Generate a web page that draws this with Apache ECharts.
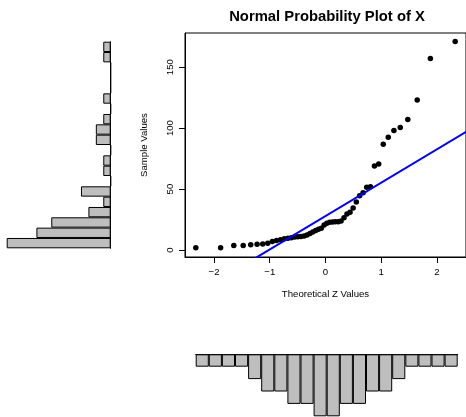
<!DOCTYPE html>
<html>
<head>
<meta charset="utf-8">
<script src="https://cdn.jsdelivr.net/npm/echarts@6/dist/echarts.min.js"></script>
<style>
  html, body { margin: 0; padding: 0; background: #fff; }
  #chart { width: 466px; height: 417px; }
</style>
</head>
<body>
<div id="chart"></div>
<script>
// theoretical z quantiles (x) and sorted sample values (y)
var zValues = [-2.326, -1.881, -1.645, -1.476, -1.341, -1.227, -1.126, -1.036, -0.954, -0.878,
  -0.806, -0.739, -0.674, -0.613, -0.553, -0.496, -0.440, -0.385, -0.332, -0.279,
  -0.228, -0.176, -0.126, -0.075, -0.025, 0.025, 0.075, 0.126, 0.176, 0.228,
  0.279, 0.332, 0.385, 0.440, 0.496, 0.553, 0.613, 0.674, 0.739, 0.806,
  0.878, 0.954, 1.036, 1.126, 1.227, 1.341, 1.476, 1.645, 1.881, 2.326]
var sampleValues = [1.9, 1.9, 3.8, 3.8, 4.4, 4.7, 5.0, 5.6, 7.0, 7.8,
  8.5, 9.2, 9.6, 10.1, 10.6, 10.9, 11.2, 11.6, 12.4, 13.6,
  14.8, 16.0, 17.0, 17.8, 20.5, 22.0, 22.8, 23.0, 23.2, 23.3,
  23.8, 26.5, 29.5, 31.0, 34.5, 39.5, 44.5, 47.0, 51.5, 52.0,
  69.0, 70.5, 86.8, 92.5, 98.0, 100.5, 107.0, 123.0, 157.0, 171.0]

// reference line (through the quartiles)
var lineZ = [-3, 3]
var lineY = [-54.3, 110.1]

// histogram of sample values (left, bottom bin first)
var yBinStarts = [1.9, 10.4, 18.8, 27.3, 35.7, 44.2, 52.7, 61.1, 69.6, 78.0,
  86.5, 95.0, 103.4, 111.9, 120.3, 128.8, 137.3, 145.7, 154.2, 162.6]
var yBinCounts = [14, 10, 8, 3, 1, 4, 0, 1, 1, 0, 2, 2, 1, 0, 1, 0, 0, 0, 1, 1]

// histogram of z values (bottom)
var zBinStarts = [-2.33, -2.09, -1.86, -1.63, -1.40, -1.16, -0.93, -0.70, -0.47, -0.23,
  0, 0.23, 0.47, 0.70, 0.93, 1.16, 1.40, 1.63, 1.86, 2.09]
var zBinCounts = [1, 1, 1, 1, 2, 3, 3, 4, 4, 5, 5, 4, 4, 3, 3, 2, 1, 1, 1, 1]

var xTicks = [-2, -1, 0, 1, 2]
var yTicks = [0, 50, 100, 150]

var font = 'Liberation Sans, Arial, Helvetica, sans-serif'

var chart = echarts.init(document.getElementById('chart'))

var points = zValues.map(function (z, i) { return [z, sampleValues[i]] })
var line = lineZ.map(function (z, i) { return [z, lineY[i]] })

var option = {
  backgroundColor: '#fff',
  animation: false,
  title: {
    text: 'Normal Probability Plot of X',
    left: 322,
    textAlign: 'center',
    top: 4,
    textStyle: { fontFamily: font, fontSize: 14.8, fontWeight: 'bold', color: '#000' }
  },
  grid: [
    { left: 185, top: 33, width: 282, height: 224, show: true, borderColor: '#000', borderWidth: 1 },
    { left: 6.7, top: 41.7, width: 104, height: 206.6 },
    { left: 195.7, top: 354.3, width: 262, height: 62 }
  ],
  xAxis: [
    {
      gridIndex: 0, type: 'value', min: -2.52, max: 2.52,
      name: 'Theoretical Z Values', nameLocation: 'middle', nameGap: 32,
      nameTextStyle: { fontFamily: font, fontSize: 9.6, color: '#000' },
      axisLine: { show: true, onZero: false, lineStyle: { color: '#000', width: 1 } },
      axisTick: { show: true, length: 6, customValues: xTicks, lineStyle: { color: '#000' } },
      axisLabel: {
        customValues: xTicks, margin: 10, fontFamily: font, fontSize: 9.6, color: '#000',
        formatter: function (v) { return String(v).replace('-', '\u2212') }
      },
      splitLine: { show: false }
    },
    {
      gridIndex: 1, type: 'value', min: 0, max: 14, inverse: true, show: false
    },
    {
      gridIndex: 2, type: 'category', data: zBinStarts.map(String), position: 'top',
      axisLine: { show: true, onZero: false, lineStyle: { color: '#000' } },
      axisTick: { show: false }, axisLabel: { show: false }, splitLine: { show: false }
    }
  ],
  yAxis: [
    {
      gridIndex: 0, type: 'value', min: -5.7, max: 178,
      name: 'Sample Values', nameLocation: 'middle', nameGap: 36,
      nameTextStyle: { fontFamily: font, fontSize: 9.6, color: '#000' },
      axisLine: { show: true, onZero: false, lineStyle: { color: '#000', width: 1 } },
      axisTick: { show: true, length: 6, customValues: yTicks, lineStyle: { color: '#000' } },
      axisLabel: { customValues: yTicks, rotate: 90, margin: 10, fontFamily: font, fontSize: 9.6, color: '#000' },
      splitLine: { show: false }
    },
    {
      gridIndex: 1, type: 'category', data: yBinStarts.map(String), position: 'right',
      axisLine: { show: true, onZero: false, lineStyle: { color: '#000' } },
      axisTick: { show: false }, axisLabel: { show: false }, splitLine: { show: false }
    },
    {
      gridIndex: 2, type: 'value', min: 0, max: 5, inverse: true, show: false
    }
  ],
  series: [
    {
      type: 'line', xAxisIndex: 0, yAxisIndex: 0, data: line,
      symbol: 'none', clip: true,
      lineStyle: { color: '#0000ff', width: 2 }
    },
    {
      type: 'scatter', xAxisIndex: 0, yAxisIndex: 0, data: points,
      symbol: 'circle', symbolSize: 5.5,
      itemStyle: { color: '#000', opacity: 1 }
    },
    {
      type: 'bar', xAxisIndex: 1, yAxisIndex: 1, data: yBinCounts,
      barCategoryGap: '0%',
      itemStyle: { color: '#bebebe', borderColor: '#000', borderWidth: 1 }
    },
    {
      type: 'bar', xAxisIndex: 2, yAxisIndex: 2, data: zBinCounts,
      barCategoryGap: '0%',
      itemStyle: { color: '#bebebe', borderColor: '#000', borderWidth: 1 }
    }
  ]
}

chart.setOption(option)
window.addEventListener('resize', function () { chart.resize() })
</script>
</body>
</html>
